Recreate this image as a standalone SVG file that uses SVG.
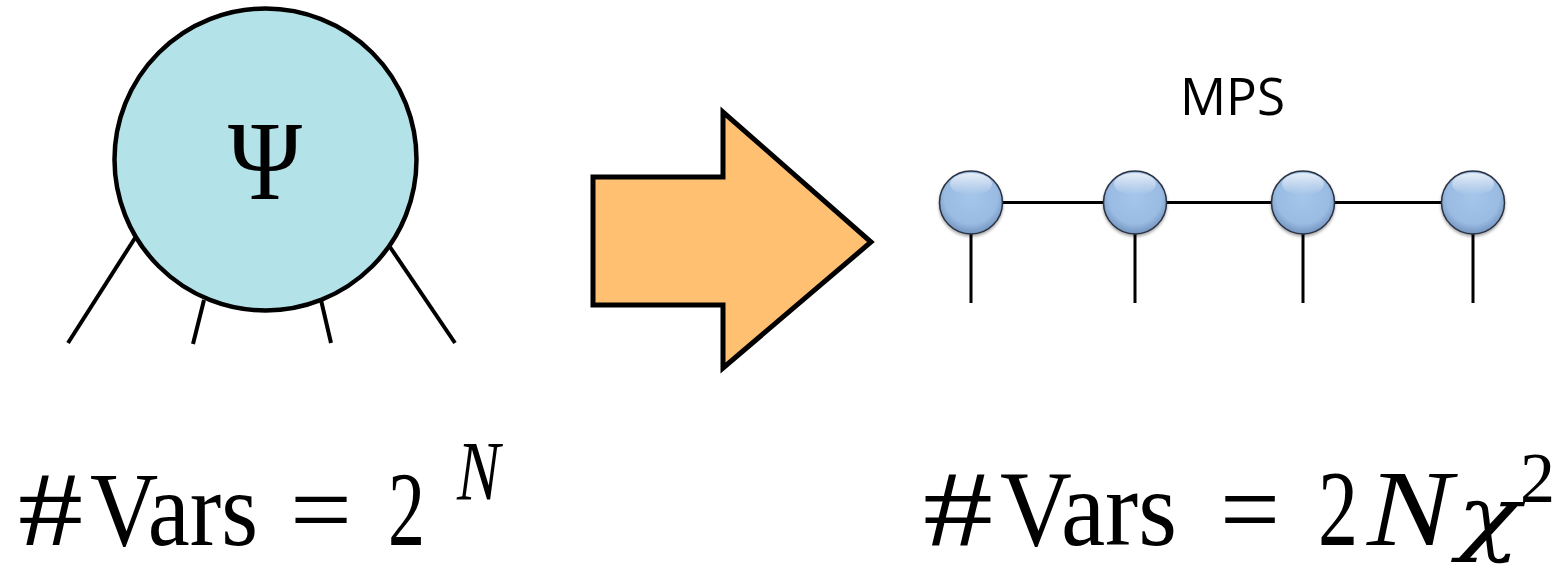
<svg xmlns="http://www.w3.org/2000/svg" width="1565" height="568" viewBox="0 0 1565 568">
  <style>
    .leg { stroke: #000; stroke-width: 4; stroke-linecap: butt; fill: none; }
    .bond { stroke: #000; stroke-width: 3; fill: none; }
    .math { font-family: "Liberation Serif", "DejaVu Serif", serif; fill: #000; }
    .it { font-style: italic; }
    .site { fill: url(#siteFill); stroke: #2a3140; stroke-width: 1.5; filter: url(#siteShadow); }
  </style>
  <defs>
    <radialGradient id="siteFill" cx="0.5" cy="0.42" r="0.6">
      <stop offset="0" stop-color="#a5c6ea"/>
      <stop offset="0.7" stop-color="#9abbe2"/>
      <stop offset="1" stop-color="#6e8fba"/>
    </radialGradient>
    <linearGradient id="siteGloss" x1="0" y1="0" x2="0" y2="1">
      <stop offset="0" stop-color="#ffffff" stop-opacity="0.75"/>
      <stop offset="1" stop-color="#ffffff" stop-opacity="0"/>
    </linearGradient>
    <filter id="siteShadow" x="-30%" y="-30%" width="160%" height="160%">
      <feGaussianBlur in="SourceAlpha" stdDeviation="1.5"/>
      <feOffset dy="2" result="off"/>
      <feComponentTransfer><feFuncA type="linear" slope="0.35"/></feComponentTransfer>
      <feMerge><feMergeNode/><feMergeNode in="SourceGraphic"/></feMerge>
    </filter>
  </defs>
  <rect width="1565" height="568" fill="#fff"/>

  <!-- full wavefunction tensor with its physical legs -->
  <g id="psi-tensor">
    <line class="leg" x1="135" y1="238" x2="68" y2="343"/>
    <line class="leg" x1="204" y1="300" x2="193" y2="344"/>
    <line class="leg" x1="321" y1="300" x2="331" y2="343"/>
    <line class="leg" x1="390" y1="247" x2="455" y2="343"/>
    <circle cx="265.5" cy="159.5" r="151" fill="#b3e3e8" stroke="#000" stroke-width="4.5"/>
    <text class="math" x="265" y="199" font-size="112" text-anchor="middle" textLength="74" lengthAdjust="spacingAndGlyphs">Ψ</text>
  </g>

  <!-- block arrow -->
  <g id="arrow">
    <polygon points="593,177 723,177 723,112 871,242 723,368 723,305 593,305" fill="#ffc072" stroke="#000" stroke-width="5" stroke-linejoin="miter"/>
  </g>

  <!-- MPS chain: bonds and physical legs -->
  <g id="connectors">
    <line class="bond" x1="971" y1="202.5" x2="1473" y2="202.5"/>
    <line class="bond" x1="971" y1="230" x2="971" y2="303"/>
    <line class="bond" x1="1135" y1="230" x2="1135" y2="303"/>
    <line class="bond" x1="1303" y1="230" x2="1303" y2="303"/>
    <line class="bond" x1="1473" y1="230" x2="1473" y2="303"/>
  </g>

  <g id="mps-label">
    <text x="1180" y="115" font-family="'Open Sans', 'Liberation Sans', sans-serif" font-size="51" fill="#000" textLength="105" lengthAdjust="spacingAndGlyphs">MPS</text>
  </g>

  <g id="site-1">
    <circle class="site" cx="971" cy="202.5" r="31.5"/>
    <ellipse cx="971" cy="184" rx="21" ry="11" fill="url(#siteGloss)"/>
  </g>
  <g id="site-2">
    <circle class="site" cx="1135" cy="202.5" r="31.5"/>
    <ellipse cx="1135" cy="184" rx="21" ry="11" fill="url(#siteGloss)"/>
  </g>
  <g id="site-3">
    <circle class="site" cx="1303" cy="202.5" r="31.5"/>
    <ellipse cx="1303" cy="184" rx="21" ry="11" fill="url(#siteGloss)"/>
  </g>
  <g id="site-4">
    <circle class="site" cx="1473" cy="202.5" r="31.5"/>
    <ellipse cx="1473" cy="184" rx="21" ry="11" fill="url(#siteGloss)"/>
  </g>

  <!-- parameter counts -->
  <g id="count-left">
    <text class="math" x="18" y="545" font-size="106" textLength="65" lengthAdjust="spacingAndGlyphs">#</text>
    <text class="math" x="90" y="545" font-size="106" textLength="168" lengthAdjust="spacingAndGlyphs">Vars</text>
    <text class="math" x="290" y="545" font-size="106" textLength="62" lengthAdjust="spacingAndGlyphs">=</text>
    <text class="math" x="388" y="545" font-size="106" textLength="37" lengthAdjust="spacingAndGlyphs">2</text>
    <text class="math it" x="457" y="500" font-size="84" textLength="43" lengthAdjust="spacingAndGlyphs">N</text>
  </g>
  <g id="count-right">
    <text class="math" x="923" y="545" font-size="108" textLength="70" lengthAdjust="spacingAndGlyphs">#</text>
    <text class="math" x="1000" y="545" font-size="108" textLength="177" lengthAdjust="spacingAndGlyphs">Vars</text>
    <text class="math" x="1220" y="545" font-size="108" textLength="60" lengthAdjust="spacingAndGlyphs">=</text>
    <text class="math" x="1318" y="545" font-size="108" textLength="40" lengthAdjust="spacingAndGlyphs">2</text>
    <text class="math it" x="1367" y="545" font-size="108" textLength="85" lengthAdjust="spacingAndGlyphs">N</text>
    <text x="1457" y="545" font-family="'DejaVu Serif', serif" font-style="italic" font-size="82" textLength="63" lengthAdjust="spacingAndGlyphs">χ</text>
    <text class="math" x="1520" y="502" font-size="72" textLength="35" lengthAdjust="spacingAndGlyphs">2</text>
  </g>
</svg>
